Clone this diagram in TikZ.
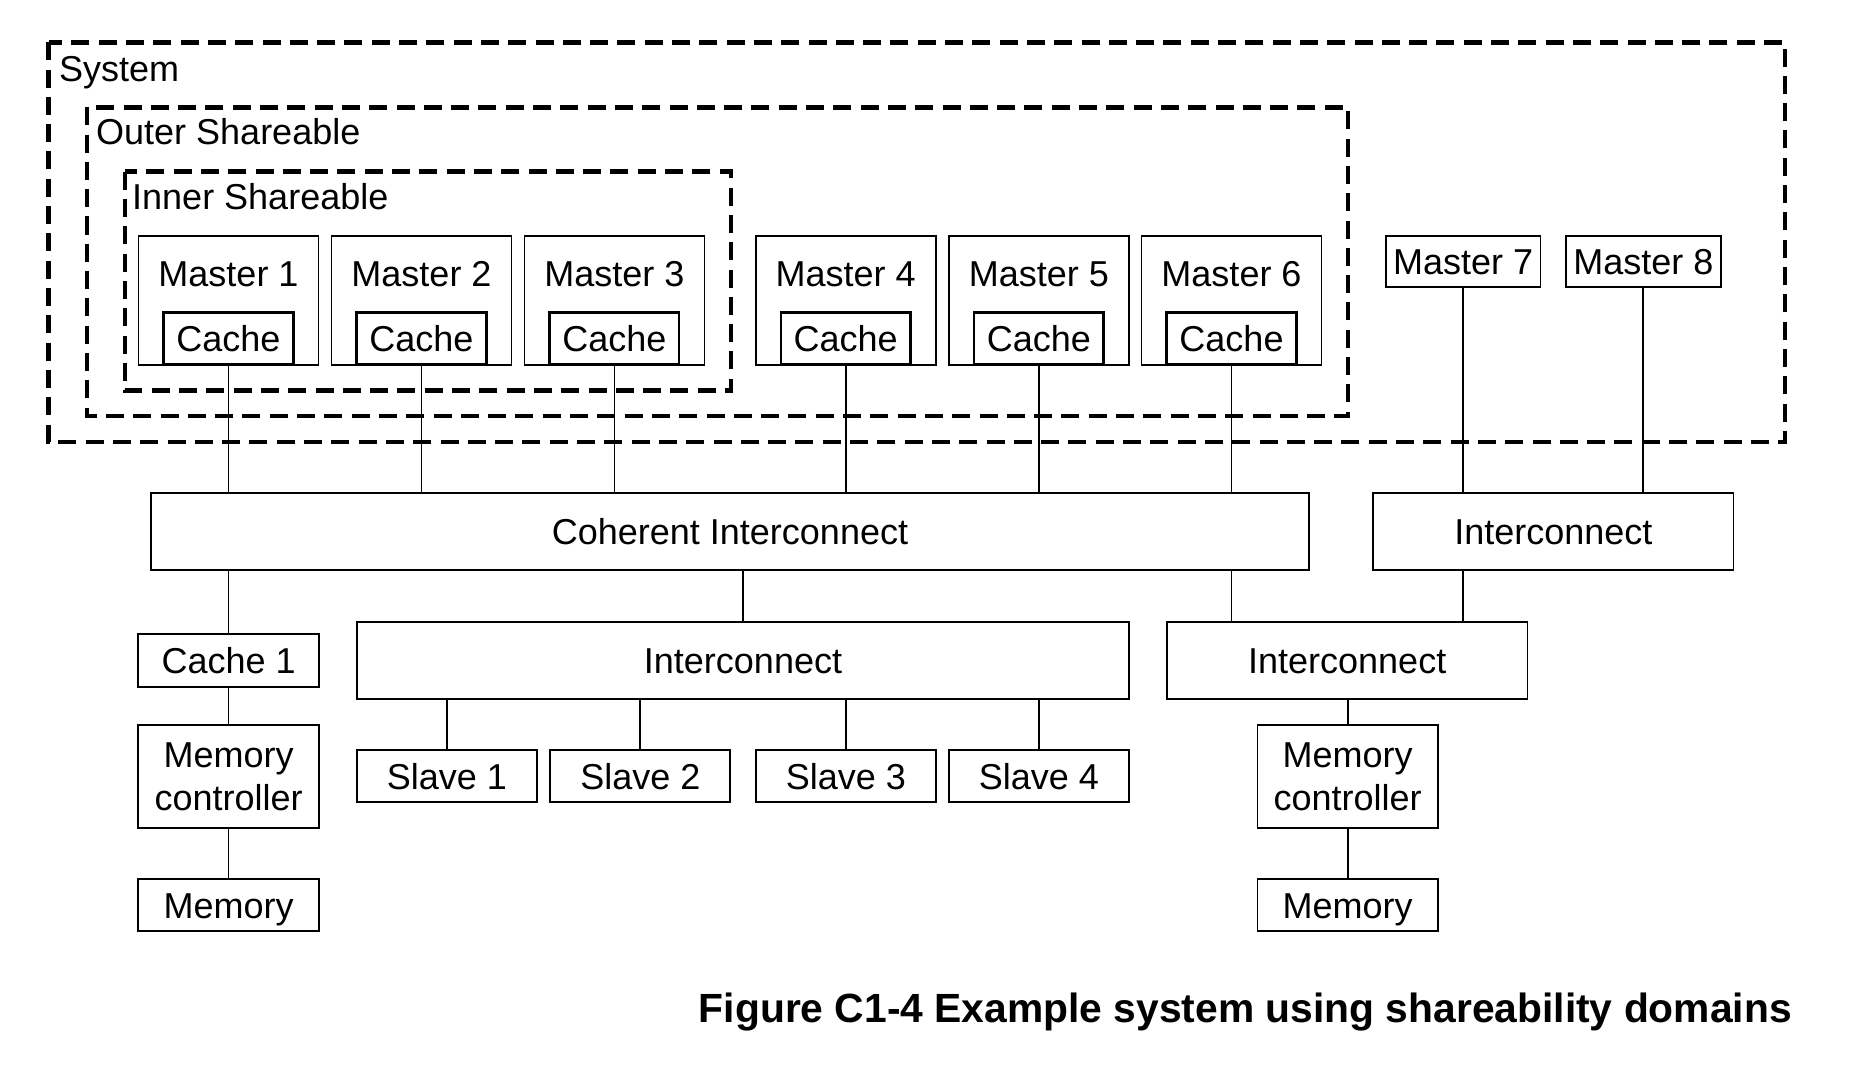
\documentclass[tikz,border=0pt]{standalone}
\usepackage{fontspec}
\setmainfont{Liberation Sans}
\begin{document}
\begin{tikzpicture}[x=1pt,y=-1pt,
  box/.style={draw, line width=1.8pt, inner sep=0pt, text height=25.8pt, text depth=0pt, font=\fontsize{36}{43}\selectfont},
  cbox/.style={box, line width=2.6pt},
  mbox/.style={draw, line width=1.8pt, inner sep=0pt, align=center, font=\fontsize{36}{43}\selectfont},
  txt/.style={inner sep=0pt, text height=25.8pt, text depth=0pt, font=\fontsize{36}{43}\selectfont},
  shdomain/.style={line width=4.5pt, dash pattern=on 18pt off 9.3pt},
  link/.style={line width=1.7pt}]
\useasboundingbox (0,0) rectangle (1860,1078);

% shareability domains
\draw[shdomain] (48.5,42.3) rectangle (1785,442);
\draw[shdomain] (87,107.3) rectangle (1348,416);
\draw[shdomain] (125,171.7) rectangle (731,390.7);
\node[txt, anchor=base west] (systxt) at (59,81.2) {System};
\node[txt, anchor=base west] (outtxt) at (96,144.6) {Outer Shareable};
\node[txt, anchor=base west] (inntxt) at (132,209.6) {Inner Shareable};

% masters with caches
\foreach \i/\x in {1/228.5,2/421.5,3/614.4,4/845.7,5/1038.8,6/1231.5}{
  \node[box, minimum width=180pt, minimum height=129pt] (m\i) at (\x,300.2) {};
  \node[txt] (m\i t) at (\x,273.3) {Master \i};
  \node[cbox, minimum width=129.5pt, minimum height=52pt] (c\i) at (\x,338.7) {Cache};
}
\node[box, minimum width=154.6pt, minimum height=51.6pt] (m7) at (1463.1,261.5) {Master 7};
\node[box, minimum width=155.4pt, minimum height=51.6pt] (m8) at (1643.3,261.5) {Master 8};

% interconnects
\node[box, minimum width=1158pt, minimum height=77.3pt] (coh) at (730,531.65) {Coherent Interconnect};
\node[box, minimum width=360.5pt, minimum height=77.3pt] (ric) at (1553.3,531.65) {Interconnect};
\node[box, minimum width=772pt, minimum height=77pt] (mic) at (743,660.5) {Interconnect};
\node[box, minimum width=360.5pt, minimum height=77pt] (lric) at (1347.2,660.5) {Interconnect};

% left memory path
\node[box, minimum width=180.6pt, minimum height=52.4pt] (cl1) at (228.6,660.5) {Cache 1};
\node[mbox, minimum width=180.6pt, minimum height=103pt] (mcl) at (228.6,776.5) {Memory\\controller};
\node[box, minimum width=180.6pt, minimum height=51.7pt] (meml) at (228.6,905.2) {Memory};

% slaves
\foreach \i/\x in {1/447,2/640.3,3/845.8,4/1038.8}{
  \node[box, minimum width=180pt, minimum height=52pt] (s\i) at (\x,776.3) {Slave \i};
}

% right memory path
\node[mbox, minimum width=180.5pt, minimum height=103pt] (mcr) at (1347.7,776.5) {Memory\\controller};
\node[box, minimum width=180.5pt, minimum height=51.7pt] (memr) at (1347.7,905.2) {Memory};

% connectors
\foreach \i in {1,...,6}{
  \draw[link] (c\i.south) -- (c\i.south |- coh.north);
}
\draw[link] (m7.south) -- (m7.south |- ric.north);
\draw[link] (m8.south) -- (m8.south |- ric.north);
\draw[link] (cl1.north) -- (cl1.north |- coh.south);
\draw[link] (cl1.south) -- (mcl.north);
\draw[link] (mcl.south) -- (meml.north);
\draw[link] (mic.north) -- (mic.north |- coh.south);
\draw[link] (c6.south |- coh.south) -- (c6.south |- lric.north);
\draw[link] (m7.south |- ric.south) -- (m7.south |- lric.north);
\foreach \i in {1,...,4}{
  \draw[link] (s\i.north) -- (s\i.north |- mic.south);
}
\draw[link] (mcr.north) -- (mcr.north |- lric.south);
\draw[link] (mcr.south) -- (memr.north);

% caption
\node[inner sep=0pt, anchor=east, text height=29pt, text depth=0pt, font=\bfseries\fontsize{40.8}{48}\selectfont] (cap) at (1792,1008.3) {Figure C1-4 Example system using shareability domains};
\end{tikzpicture}
\end{document}
